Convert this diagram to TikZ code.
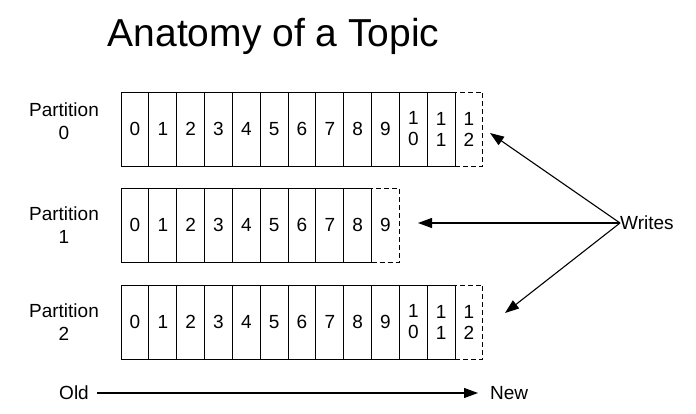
\documentclass[tikz,border=0pt]{standalone}
\usepackage{fontspec}
\setmainfont{Liberation Sans}
\usetikzlibrary{arrows.meta}

% offsets of 10 and more are stacked digit over digit
\newcommand\cellnum[1]{\ifnum#1<10 #1\else 1\\\the\numexpr#1-10\relax\fi}

\begin{document}
\begin{tikzpicture}[x=1pt,y=-1pt,
  cell/.style={draw,line width=0.9pt,minimum width=27.83pt,minimum height=74pt,
    inner sep=0pt,align=center,font=\fontsize{19}{21}\selectfont},
  newcell/.style={cell,dash pattern=on 5pt off 3pt},
  lbl/.style={inner sep=0pt,align=center,font=\fontsize{19}{22.6}\selectfont},
  writearrow/.style={-{Triangle[length=14pt,width=10pt]},line width=1.1pt}]
  \useasboundingbox (0,0) rectangle (696,414);

  % Title
  \node[anchor=base,inner sep=0pt,font=\fontsize{39}{41}\selectfont] (title) at (273.5,47) {Anatomy of a Topic};

  % Partitions
  \foreach \r/\y/\n/\dy in {0/129/12/8,1/225/9/0,2/322/12/0}{
    \node[lbl] (lab\r) at (64,\y-\dy) {Partition\\\r};
    \foreach \i in {0,...,\n}{
      \ifnum\i<\n
        \node[cell] (p\r-\i) at (135+27.83*\i,\y) {\cellnum{\i}};
      \else
        \node[newcell] (p\r-\i) at (135+27.83*\i,\y) {\cellnum{\i}};
      \fi
    }
  }

  % Writes
  \node[lbl,anchor=west] (writes) at (620,223) {Writes};
  \coordinate (tip0) at (490,133);
  \coordinate (tip1) at (418,223);
  \coordinate (tip2) at (505,313);
  \foreach \r in {0,1,2}
    \draw[writearrow] (writes.west) -- (tip\r);

  % Old to new
  \node[lbl,anchor=east] (old) at (89,393) {Old};
  \node[lbl,anchor=west] (new) at (490,393) {New};
  \draw[writearrow,shorten <=8pt,shorten >=12pt] (old.east) -- (new.west);
\end{tikzpicture}
\end{document}
